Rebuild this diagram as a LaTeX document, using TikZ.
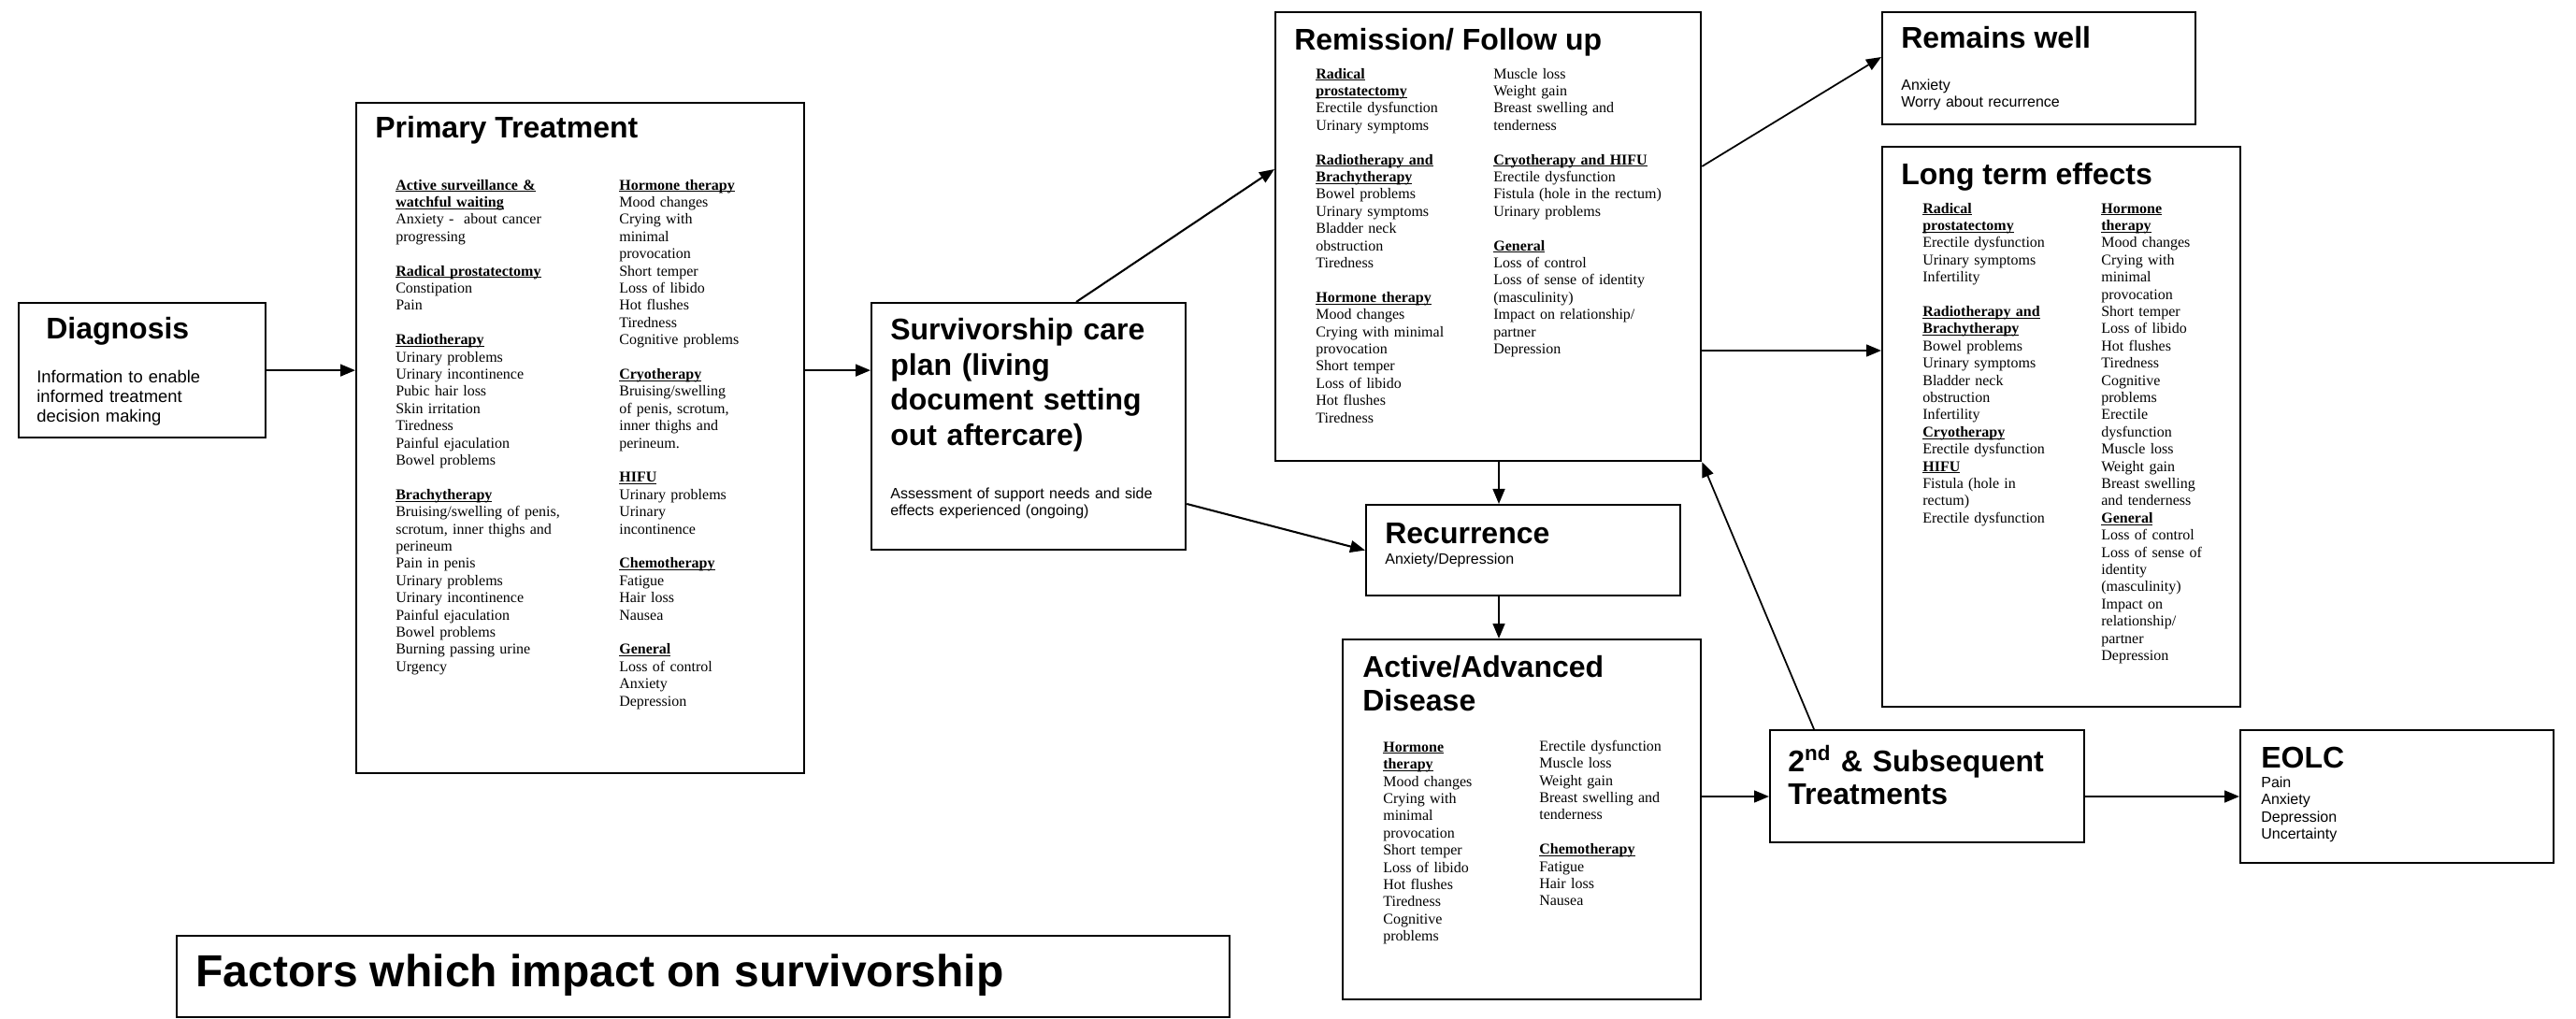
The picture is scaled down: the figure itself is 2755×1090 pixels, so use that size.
\documentclass[tikz,border=0pt]{standalone}
\usepackage{fontspec}
\setmainfont{Liberation Serif}
\setsansfont{Liberation Sans}
\usetikzlibrary{arrows.meta,calc}
% bold heading with a word-processor style underline
\newsavebox\hdbox
\newcommand{\hd}[1]{\leavevmode\sbox\hdbox{\textbf{#1}}\rlap{\rule[-1.4pt]{\wd\hdbox}{0.6pt}}\usebox\hdbox}
\newcommand{\gapline}{\\[11.5pt]}

\begin{document}
\begin{tikzpicture}[x=0.625pt,y=-0.625pt,
  box/.style={draw,line width=1.4pt,rectangle,inner sep=0pt,anchor=north west},
  ttl/.style={font=\sffamily\bfseries\fontsize{20}{23}\selectfont,inner sep=0pt,anchor=base west},
  ttlm/.style={font=\sffamily\bfseries\fontsize{20}{#1}\selectfont,inner sep=0pt,anchor=north west,text width=260pt,align=left},
  col/.style={font=\rmfamily\fontsize{10}{11.5}\selectfont,inner sep=0pt,anchor=north west,text width=150pt,align=left},
  note/.style={font=\sffamily\fontsize{10}{11.5}\selectfont,inner sep=0pt,anchor=north west,text width=200pt,align=left},
  conn/.style={line width=1.3pt,-{Triangle[length=10pt,width=8pt]}},
  thinconn/.style={line width=1.1pt,-{Triangle[length=10pt,width=8pt]}},
]
\useasboundingbox (0,0) rectangle (2755,1090);

% ---------- boxes ----------
\node[box,minimum width=165pt,minimum height=90pt] (diag) at (19,323) {};
\node[box,minimum width=299.375pt,minimum height=448.125pt] (prim) at (380,109) {};
\node[box,minimum width=210pt,minimum height=165pt] (surv) at (931,323) {};
\node[box,minimum width=284.375pt,minimum height=300pt] (rem) at (1363,12) {};
\node[box,minimum width=210pt,minimum height=60.625pt] (rec) at (1460,539) {};
\node[box,minimum width=239.375pt,minimum height=240.625pt] (act) at (1435,683) {};
\node[box,minimum width=209.375pt,minimum height=75pt] (rw) at (2012,12) {};
\node[box,minimum width=239.375pt,minimum height=374.375pt] (lte) at (2012,156) {};
\node[box,minimum width=210pt,minimum height=75pt] (snd) at (1892,780) {};
\node[box,minimum width=209.375pt,minimum height=88.75pt] (eolc) at (2395,780) {};
\node[box,minimum width=703.75pt,minimum height=54.4pt] (fac) at (188,1000) {};

% ---------- Diagnosis ----------
\node[ttl] (diagT) at (49,363) {Diagnosis};
\node[note,font=\sffamily\fontsize{11.5}{13.2}\selectfont] (diagB) at (39,394)
  {\strut Information to enable\\informed treatment\\decision making};

% ---------- Primary Treatment ----------
\node[ttl] (primT) at (401,148) {Primary Treatment};
\node[col] (primL) at (423,190) {\strut\hd{Active surveillance \&}\\
\hd{watchful waiting}\\
Anxiety -\ \ about cancer\\
progressing\gapline
\hd{Radical prostatectomy}\\
Constipation\\
Pain\gapline
\hd{Radiotherapy}\\
Urinary problems\\
Urinary incontinence\\
Pubic hair loss\\
Skin irritation\\
Tiredness\\
Painful ejaculation\\
Bowel problems\gapline
\hd{Brachytherapy}\\
Bruising/swelling of penis,\\
scrotum, inner thighs and\\
perineum\\
Pain in penis\\
Urinary problems\\
Urinary incontinence\\
Painful ejaculation\\
Bowel problems\\
Burning passing urine\\
Urgency};
\node[col] (primR) at (662,190) {\strut\hd{Hormone therapy}\\
Mood changes\\
Crying with\\
minimal\\
provocation\\
Short temper\\
Loss of libido\\
Hot flushes\\
Tiredness\\
Cognitive problems\gapline
\hd{Cryotherapy}\\
Bruising/swelling\\
of penis, scrotum,\\
inner thighs and\\
perineum.\gapline
\hd{HIFU}\\
Urinary problems\\
Urinary\\
incontinence\gapline
\hd{Chemotherapy}\\
Fatigue\\
Hair loss\\
Nausea\gapline
\hd{General}\\
Loss of control\\
Anxiety\\
Depression};

% ---------- Survivorship care plan ----------
\node[ttlm=23.5pt] (survT) at (952,337)
  {\strut Survivorship care\\plan (living\\document setting\\out aftercare)};
\node[note] (survB) at (952,520)
  {\strut Assessment of support needs and side\\effects experienced (ongoing)};

% ---------- Remission / Follow up ----------
\node[ttl] (remT) at (1384,54) {Remission/ Follow up};
\node[col] (remL) at (1407,71) {\strut\hd{Radical}\\
\hd{prostatectomy}\\
Erectile dysfunction\\
Urinary symptoms\gapline
\hd{Radiotherapy and}\\
\hd{Brachytherapy}\\
Bowel problems\\
Urinary symptoms\\
Bladder neck\\
obstruction\\
Tiredness\gapline
\hd{Hormone therapy}\\
Mood changes\\
Crying with minimal\\
provocation\\
Short temper\\
Loss of libido\\
Hot flushes\\
Tiredness};
\node[col] (remR) at (1597,71) {\strut Muscle loss\\
Weight gain\\
Breast swelling and\\
tenderness\gapline
\hd{Cryotherapy and HIFU}\\
Erectile dysfunction\\
Fistula (hole in the rectum)\\
Urinary problems\gapline
\hd{General}\\
Loss of control\\
Loss of sense of identity\\
(masculinity)\\
Impact on relationship/\\
partner\\
Depression};

% ---------- Recurrence ----------
\node[ttl] (recT) at (1481,581) {Recurrence};
\node[note] (recB) at (1481,590) {\strut Anxiety/Depression};

% ---------- Active/Advanced Disease ----------
\node[ttlm=22pt] (actT) at (1457,700) {\strut Active/Advanced\\Disease};
\node[col] (actL) at (1479,791) {\strut\hd{Hormone}\\
\hd{therapy}\\
Mood changes\\
Crying with\\
minimal\\
provocation\\
Short temper\\
Loss of libido\\
Hot flushes\\
Tiredness\\
Cognitive\\
problems};
\node[col] (actR) at (1646,790) {\strut Erectile dysfunction\\
Muscle loss\\
Weight gain\\
Breast swelling and\\
tenderness\gapline
\hd{Chemotherapy}\\
Fatigue\\
Hair loss\\
Nausea};

% ---------- Remains well ----------
\node[ttl] (rwT) at (2033,52) {Remains well};
\node[note] (rwB) at (2033,83) {\strut Anxiety\\Worry about recurrence};

% ---------- Long term effects ----------
\node[ttl] (lteT) at (2033,198) {Long term effects};
\node[col] (lteL) at (2056,215) {\strut\hd{Radical}\\
\hd{prostatectomy}\\
Erectile dysfunction\\
Urinary symptoms\\
Infertility\gapline
\hd{Radiotherapy and}\\
\hd{Brachytherapy}\\
Bowel problems\\
Urinary symptoms\\
Bladder neck\\
obstruction\\
Infertility\\
\hd{Cryotherapy}\\
Erectile dysfunction\\
\hd{HIFU}\\
Fistula (hole in\\
rectum)\\
Erectile dysfunction};
\node[col] (lteR) at (2247,215) {\strut\hd{Hormone}\\
\hd{therapy}\\
Mood changes\\
Crying with\\
minimal\\
provocation\\
Short temper\\
Loss of libido\\
Hot flushes\\
Tiredness\\
Cognitive\\
problems\\
Erectile\\
dysfunction\\
Muscle loss\\
Weight gain\\
Breast swelling\\
and tenderness\\
\hd{General}\\
Loss of control\\
Loss of sense of\\
identity\\
(masculinity)\\
Impact on\\
relationship/\\
partner\\
Depression};

% ---------- 2nd & Subsequent Treatments ----------
\node[ttlm=22pt] (sndT) at (1912,797) {\strut 2\textsuperscript{nd} \& Subsequent\\Treatments};

% ---------- EOLC ----------
\node[ttl] (eolcT) at (2418,821) {EOLC};
\node[note] (eolcB) at (2418,829) {\strut Pain\\Anxiety\\Depression\\Uncertainty};

% ---------- Factors ----------
\node[ttl,font=\sffamily\bfseries\fontsize{30}{34}\selectfont] (facT) at (209,1055)
  {Factors which impact on survivorship};

% ---------- connectors ----------
\draw[conn] (diag.east) -- (diag.east -| prim.west);
\draw[conn] (prim.east |- diag.east) -- (surv.west |- diag.east);
\draw[conn] ($(surv.north west)+(220,0)$) -- ($(rem.north west)+(0,169)$);
\draw[conn] ($(surv.north east)+(0,216)$) -- (rec.west);
\coordinate (drop1) at ($(rem.south west)+(240,0)$);
\draw[conn] (drop1) -- (drop1 |- rec.north);
\coordinate (drop2) at ($(rec.south west)+(143,0)$);
\draw[conn] (drop2) -- (drop2 |- act.north);
\draw[thinconn] ($(rem.north east)+(0,166)$) -- ($(rw.north west)+(0,49)$);
\coordinate (side1) at ($(rem.north east)+(0,363)$);
\draw[conn] (side1) -- (side1 -| lte.west);
\coordinate (side2) at ($(act.north east)+(0,169)$);
\draw[conn] (side2) -- (side2 -| snd.west);
\draw[thinconn] ($(snd.north west)+(48,0)$) -- (rem.south east);
\coordinate (side3) at ($(snd.north east)+(0,72)$);
\draw[conn] (side3) -- (side3 -| eolc.west);
\end{tikzpicture}
\end{document}
